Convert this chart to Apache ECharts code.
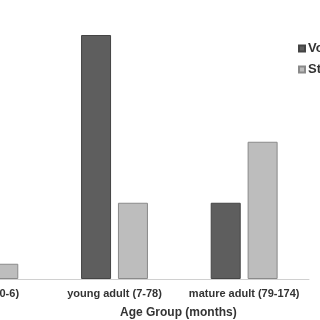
<!DOCTYPE html>
<html>
<head>
<meta charset="utf-8">
<script src="https://cdn.jsdelivr.net/npm/echarts@6/dist/echarts.min.js"></script>
<style>
  html, body { margin: 0; padding: 0; width: 320px; height: 320px; overflow: hidden; background: #fff; }
  #chart { position: absolute; left: -100px; top: 0; width: 500px; height: 320px; }
</style>
</head>
<body>
<div id="chart"></div>
<script>
// Data
const categories = ['neonate (0-6)', 'young adult (7-78)', 'mature adult (79-174)']
const seriesNames = ['Vocal', 'Stereotypic']
const vocalValues = [0, 16, 5]
const stereoValues = [1, 5, 9]

const chart = echarts.init(document.getElementById('chart'))

const option = {
  animation: false,
  title: {
    text: 'Age Group (months)',
    left: 220,
    top: 307,
    padding: 0,
    textStyle: { fontFamily: 'Liberation Sans', fontSize: 12, fontWeight: 'bold', color: '#333' }
  },
  legend: {
    data: seriesNames,
    orient: 'vertical',
    left: 393,
    top: 37,
    itemWidth: 6,
    itemHeight: 6,
    itemGap: 8,
    icon: 'rect',
    textStyle: { fontFamily: 'Liberation Sans', fontSize: 13, fontWeight: 'bold', color: '#333', padding: [0, 0, 0, -2] }
  },
  grid: {
    left: 20,
    right: 91,
    top: 35,
    bottom: 41
  },
  xAxis: {
    type: 'category',
    data: categories,
    axisTick: { show: false },
    axisLine: { lineStyle: { color: '#d0d0d0' } },
    axisLabel: {
      interval: 0,
      fontFamily: 'Liberation Sans',
      fontSize: 11,
      fontWeight: 'bold',
      color: '#333',
      margin: 9
    }
  },
  yAxis: {
    type: 'value',
    min: 0,
    max: 16,
    show: false,
    splitLine: { show: false }
  },
  series: [
    {
      name: seriesNames[0],
      type: 'bar',
      data: vocalValues,
      barWidth: 30,
      barGap: '23%',
      itemStyle: { color: '#5e5e5e', borderColor: '#444', borderWidth: 1 }
    },
    {
      name: seriesNames[1],
      type: 'bar',
      data: stereoValues,
      barWidth: 30,
      itemStyle: { color: '#bdbdbd', borderColor: '#8a8a8a', borderWidth: 1 }
    }
  ]
}

chart.setOption(option)
</script>
</body>
</html>
